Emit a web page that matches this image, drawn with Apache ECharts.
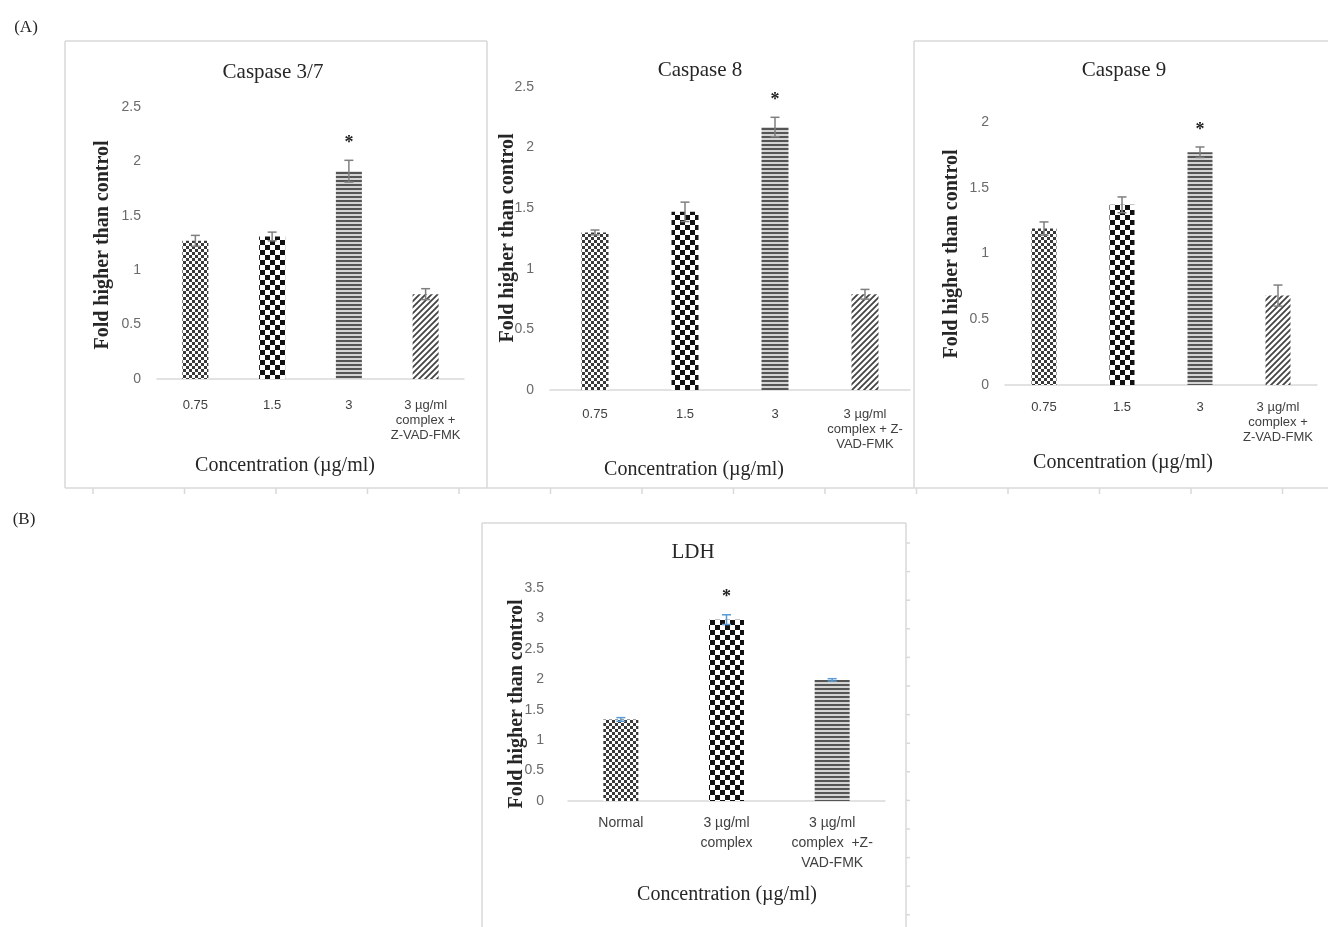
<!DOCTYPE html>
<html>
<head>
<meta charset="utf-8">
<script src="https://cdn.jsdelivr.net/npm/echarts@6/dist/echarts.min.js"></script>
<style>
  html, body { margin: 0; padding: 0; background: #fff; }
  #main { width: 1328px; height: 927px; }
</style>
</head>
<body>
<div id="main"></div>
<script>
// ---- data ----
var casp37Cats = ['0.75', '1.5', '3', '3 µg/ml\ncomplex +\nZ-VAD-FMK'];
var casp37Vals = [1.27, 1.31, 1.91, 0.78];
var casp37Errs = [0.05, 0.04, 0.10, 0.05];
var casp37Sig = ['', '', '*', ''];

var casp8Cats = ['0.75', '1.5', '3', '3 µg/ml\ncomplex + Z-\nVAD-FMK'];
var casp8Vals = [1.30, 1.47, 2.17, 0.79];
var casp8Errs = [0.02, 0.08, 0.08, 0.04];
var casp8Sig = ['', '', '*', ''];

var casp9Cats = ['0.75', '1.5', '3', '3 µg/ml\ncomplex +\nZ-VAD-FMK'];
var casp9Vals = [1.19, 1.37, 1.77, 0.68];
var casp9Errs = [0.05, 0.06, 0.04, 0.08];
var casp9Sig = ['', '', '*', ''];

var ldhCats = ['Normal', '3 µg/ml\ncomplex', '3 µg/ml\ncomplex  +Z-\nVAD-FMK'];
var ldhVals = [1.34, 2.98, 1.99];
var ldhErrs = [0.03, 0.08, 0.02];
var ldhSig = ['', '*', ''];

var casp37Ticks = { max: 2.5, interval: 0.5 };
var casp8Ticks = { max: 2.5, interval: 0.5 };
var casp9Ticks = { max: 2, interval: 0.5 };
var ldhTicks = { max: 3.5, interval: 0.5 };

// ---- fill patterns ----
function makePattern(kind) {
  var c = document.createElement('canvas');
  var ctx;
  if (kind == 'fine') {
    c.width = c.height = 6;
    ctx = c.getContext('2d');
    ctx.fillStyle = '#fff'; ctx.fillRect(0, 0, 6, 6);
    ctx.fillStyle = '#3a3a3a';
    ctx.fillRect(0, 0, 3, 3); ctx.fillRect(3, 3, 3, 3);
  } else if (kind == 'coarse') {
    c.width = c.height = 10;
    ctx = c.getContext('2d');
    ctx.fillStyle = '#fff'; ctx.fillRect(0, 0, 10, 10);
    ctx.fillStyle = '#111';
    ctx.fillRect(0, 0, 5, 5); ctx.fillRect(5, 5, 5, 5);
  } else if (kind == 'hstripe') {
    c.width = c.height = 4;
    ctx = c.getContext('2d');
    ctx.fillStyle = '#d4d4d4'; ctx.fillRect(0, 0, 4, 4);
    ctx.fillStyle = '#555';
    ctx.fillRect(0, 0, 4, 2);
  } else {
    c.width = c.height = 6;
    ctx = c.getContext('2d');
    ctx.fillStyle = '#fff'; ctx.fillRect(0, 0, 6, 6);
    ctx.strokeStyle = '#444'; ctx.lineWidth = 1.8;
    ctx.beginPath();
    ctx.moveTo(0, 6); ctx.lineTo(6, 0);
    ctx.moveTo(-1, 1); ctx.lineTo(1, -1);
    ctx.moveTo(5, 7); ctx.lineTo(7, 5);
    ctx.stroke();
  }
  return { image: c, repeat: 'repeat' };
}
var pat = {
  fine: makePattern('fine'),
  coarse: makePattern('coarse'),
  hstripe: makePattern('hstripe'),
  diag: makePattern('diag')
};
var caspFills = [pat.fine, pat.coarse, pat.hstripe, pat.diag];
var ldhFills = [pat.fine, pat.coarse, pat.hstripe];

// ---- panels ----
var panels = [
  { cats: casp37Cats, vals: casp37Vals, errs: casp37Errs, sig: casp37Sig, ticks: casp37Ticks, fills: caspFills,
    grid: { left: 157, top: 107, width: 307, height: 272 }, barW: 26, errColor: '#7f7f7f',
    yMargin: 16, xMargin: 19, xFont: 13, xLine: 15 },
  { cats: casp8Cats, vals: casp8Vals, errs: casp8Errs, sig: casp8Sig, ticks: casp8Ticks, fills: caspFills,
    grid: { left: 550, top: 87, width: 360, height: 303 }, barW: 27, errColor: '#7f7f7f',
    yMargin: 16, xMargin: 17, xFont: 13, xLine: 15 },
  { cats: casp9Cats, vals: casp9Vals, errs: casp9Errs, sig: casp9Sig, ticks: casp9Ticks, fills: caspFills,
    grid: { left: 1005, top: 122, width: 312, height: 263 }, barW: 25, errColor: '#7f7f7f',
    yMargin: 16, xMargin: 15, xFont: 13, xLine: 15 },
  { cats: ldhCats, vals: ldhVals, errs: ldhErrs, sig: ldhSig, ticks: ldhTicks, fills: ldhFills,
    grid: { left: 568, top: 588, width: 317, height: 213 }, barW: 35, errColor: '#5b9bd5',
    yMargin: 24, xMargin: 12, xFont: 14, xLine: 20 }
];

function errRender(p) {
  return function (params, api) {
    var x = api.value(0), v = api.value(1), e = api.value(2);
    var top = api.coord([x, v + e]);
    var bot = api.coord([x, v - e]);
    var cw = 4.5;
    var st = { stroke: p.errColor, lineWidth: 1.5 };
    var kids = [
      { type: 'line', shape: { x1: top[0], y1: top[1], x2: bot[0], y2: bot[1] }, style: st },
      { type: 'line', shape: { x1: top[0] - cw, y1: top[1], x2: top[0] + cw, y2: top[1] }, style: st },
      { type: 'line', shape: { x1: bot[0] - cw, y1: bot[1], x2: bot[0] + cw, y2: bot[1] }, style: st }
    ];
    var s = p.sig[params.dataIndex];
    if (s) {
      kids.push({ type: 'text', style: { text: s, x: top[0], y: top[1] - 17, align: 'center', verticalAlign: 'middle',
        font: 'bold 18px "Liberation Serif"', fill: '#222' } });
    }
    return { type: 'group', children: kids };
  };
}

var grids = [], xAxes = [], yAxes = [], series = [];
panels.forEach(function (p, i) {
  grids.push(p.grid);
  xAxes.push({
    type: 'category', gridIndex: i, data: p.cats,
    axisLine: { lineStyle: { color: '#d9d9d9', width: 1.5 } },
    axisTick: { show: false },
    axisLabel: { interval: 0, margin: p.xMargin, fontSize: p.xFont, lineHeight: p.xLine,
      color: '#404040', fontFamily: 'Liberation Sans' }
  });
  yAxes.push({
    type: 'value', gridIndex: i, min: 0, max: p.ticks.max, interval: p.ticks.interval,
    axisLine: { show: false }, axisTick: { show: false }, splitLine: { show: false },
    axisLabel: { margin: p.yMargin, fontSize: 14, color: '#6a6a6a', fontFamily: 'Liberation Sans' }
  });
  series.push({
    type: 'bar', xAxisIndex: i, yAxisIndex: i, barWidth: p.barW,
    data: p.vals.map(function (v, j) { return { value: v, itemStyle: { color: p.fills[j] } }; })
  });
  series.push({
    type: 'custom', xAxisIndex: i, yAxisIndex: i, z: 5,
    encode: { x: 0, y: 1 },
    data: p.vals.map(function (v, j) { return [j, v, p.errs[j]]; }),
    renderItem: errRender(p)
  });
});

// ---- frames and texts ----
var frameStyle = { stroke: '#d9d9d9', lineWidth: 1.5, fill: null };
function ln(x1, y1, x2, y2) {
  return { type: 'line', shape: { x1: x1, y1: y1, x2: x2, y2: y2 }, style: frameStyle, silent: true };
}
function txt(x, y, s, font, rot) {
  return { type: 'text', x: x, y: y, rotation: rot || 0, silent: true,
    style: { text: s, font: font, fill: '#262626', align: 'center', verticalAlign: 'middle' } };
}
var titleFont = '21px "Liberation Serif"';
var xNameFont = '20px "Liberation Serif"';
var yNameFont = 'bold 20px "Liberation Serif"';
var yName = 'Fold higher than control';
var xName = 'Concentration (µg/ml)';

var graphic = [
  // panel frames (A)
  ln(65, 41, 487, 41), ln(65, 41, 65, 488), ln(487, 41, 487, 488),
  ln(914, 41, 1328, 41), ln(914, 41, 914, 488),
  ln(65, 488, 1328, 488),
  // frame (B)
  ln(482, 523, 906, 523), ln(482, 523, 482, 927), ln(906, 523, 906, 927)
];
for (var tx = 93; tx < 1328; tx += 91.5) graphic.push(ln(tx, 488, tx, 494));
for (var ty = 543; ty < 927; ty += 28.6) graphic.push(ln(906, ty, 910, ty));

graphic.push(
  txt(26, 28, '(A)', '17px "Liberation Serif"'),
  txt(24, 520, '(B)', '17px "Liberation Serif"'),
  txt(273, 72, 'Caspase 3/7', titleFont),
  txt(700, 70, 'Caspase 8', titleFont),
  txt(1124, 70, 'Caspase 9', titleFont),
  txt(693, 552, 'LDH', titleFont),
  txt(285, 466, xName, xNameFont),
  txt(694, 470, xName, xNameFont),
  txt(1123, 463, xName, xNameFont),
  txt(727, 895, xName, xNameFont),
  txt(103, 245, yName, yNameFont, Math.PI / 2),
  txt(508, 238, yName, yNameFont, Math.PI / 2),
  txt(952, 254, yName, yNameFont, Math.PI / 2),
  txt(517, 704, yName, yNameFont, Math.PI / 2)
);

var chart = echarts.init(document.getElementById('main'));
chart.setOption({
  animation: false,
  backgroundColor: '#fff',
  grid: grids,
  xAxis: xAxes,
  yAxis: yAxes,
  series: series,
  graphic: graphic
});
</script>
</body>
</html>
